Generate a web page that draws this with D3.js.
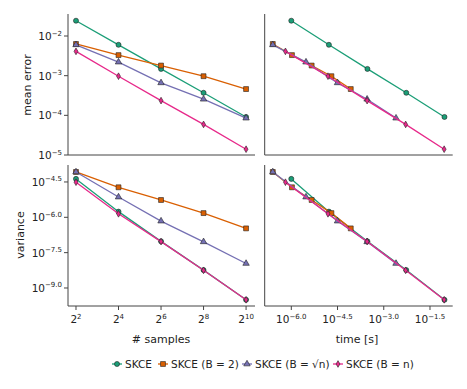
<!DOCTYPE html>
<html><head><meta charset="utf-8">
<script src="https://cdn.jsdelivr.net/npm/d3@7"></script>
<style>body{margin:0;background:#fff}text{font-family:"DejaVu Sans",sans-serif;fill:#222}</style>
</head><body><svg id="c" width="467" height="389"></svg>
<script>
const seriesNames = ["SKCE", "SKCE (B = 2)", "SKCE (B = \u221An)", "SKCE (B = n)"];
const colors = ["#1b9e77", "#d95f02", "#7570b3", "#e7298a"];
const samples = [4, 16, 64, 256, 1024];
const meanError = [
  [0.0243, 0.0060, 0.00148, 3.7e-4, 9.1e-5],
  [6.3e-3, 3.3e-3, 1.8e-3, 9.7e-4, 4.6e-4],
  [6.0e-3, 2.2e-3, 6.6e-4, 2.55e-4, 8.5e-5],
  [4.1e-3, 9.7e-4, 2.35e-4, 5.9e-5, 1.4e-5]
];
const variance = [
  [4.27e-5, 1.74e-6, 9.55e-8, 5.75e-9, 3.16e-10],
  [8.41e-5, 1.88e-5, 5.43e-6, 1.51e-6, 3.39e-7],
  [8.41e-5, 7.24e-6, 6.92e-7, 9.12e-8, 1.10e-8],
  [3.09e-5, 1.41e-6, 9.33e-8, 5.62e-9, 3.16e-10]
];
const times = [
  [1.0e-6, 1.66e-5, 2.95e-4, 5.37e-3, 9.33e-2],
  [2.51e-7, 1.05e-6, 4.57e-6, 2.0e-5, 8.5e-5],
  [2.51e-7, 3.0e-6, 3.16e-5, 2.88e-4, 2.5e-3],
  [6.46e-7, 1.55e-5, 2.88e-4, 5.13e-3, 9.12e-2]
];
const sampleTickExps = [2, 4, 6, 8, 10];
const timeTickExps = ["\u22126.0", "\u22124.5", "\u22123.0", "\u22121.5"];
const timeTickVals = [-6, -4.5, -3, -1.5];
const errTickExps = ["\u22122", "\u22123", "\u22124", "\u22125"];
const errTickVals = [-2, -3, -4, -5];
const varTickExps = ["\u22124.5", "\u22126.0", "\u22127.5", "\u22129.0"];
const varTickVals = [-4.5, -6, -7.5, -9];

const svg = d3.select("#c");
const L = [68, 255], R = [264.7, 452.7], T = [14, 155], B = [165, 306];

const xS = d3.scaleLog().base(2).domain([Math.pow(2, 1.624), Math.pow(2, 10.42)]).range(L);
const xT = d3.scaleLog().domain([Math.pow(10, -6.863), Math.pow(10, -0.763)]).range(R);
const yE = d3.scaleLog().domain([1e-5, Math.pow(10, -1.445)]).range([T[1], T[0]]);
const yV = d3.scaleLog().domain([Math.pow(10, -9.764), Math.pow(10, -3.78)]).range([B[1], B[0]]);

const axisColor = "#444";
function frame(xr, yr) {
  svg.append("line").attr("x1", xr[0]).attr("x2", xr[0]).attr("y1", yr[0]).attr("y2", yr[1]).attr("stroke", axisColor).attr("stroke-width", 1);
  svg.append("line").attr("x1", xr[0]).attr("x2", xr[1]).attr("y1", yr[1]).attr("y2", yr[1]).attr("stroke", axisColor).attr("stroke-width", 1);
}
frame(L, T); frame(R, T); frame(L, B); frame(R, B);

function supLabel(x, y, anchor, exp) {
  const t = svg.append("text").attr("x", x).attr("y", y).attr("text-anchor", anchor).attr("font-size", 10.5);
  t.append("tspan").text("10");
  t.append("tspan").attr("dy", -4.5).attr("font-size", 7).text(exp);
  return t;
}
errTickVals.forEach((v, i) => {
  const y = yE(Math.pow(10, v));
  svg.append("line").attr("x1", L[0] - 4).attr("x2", L[0]).attr("y1", y).attr("y2", y).attr("stroke", axisColor);
  supLabel(L[0] - 6, y + 4, "end", errTickExps[i]);
});
varTickVals.forEach((v, i) => {
  const y = yV(Math.pow(10, v));
  svg.append("line").attr("x1", L[0] - 4).attr("x2", L[0]).attr("y1", y).attr("y2", y).attr("stroke", axisColor);
  supLabel(L[0] - 6, y + 4, "end", varTickExps[i]);
});
sampleTickExps.forEach(e => {
  const x = xS(Math.pow(2, e));
  svg.append("line").attr("x1", x).attr("x2", x).attr("y1", B[1]).attr("y2", B[1] + 4).attr("stroke", axisColor);
  const t = svg.append("text").attr("x", x).attr("y", B[1] + 17).attr("text-anchor", "middle").attr("font-size", 10.5);
  t.append("tspan").text("2");
  t.append("tspan").attr("dy", -4.5).attr("font-size", 7).text(e);
});
timeTickVals.forEach((v, i) => {
  const x = xT(Math.pow(10, v));
  svg.append("line").attr("x1", x).attr("x2", x).attr("y1", B[1]).attr("y2", B[1] + 4).attr("stroke", axisColor);
  supLabel(x, B[1] + 17, "middle", timeTickExps[i]);
});
svg.append("text").attr("transform", "translate(31,85) rotate(-90)").attr("text-anchor", "middle").attr("font-size", 11).text("mean error");
svg.append("text").attr("transform", "translate(24,235) rotate(-90)").attr("text-anchor", "middle").attr("font-size", 11).text("variance");
svg.append("text").attr("x", 161).attr("y", 343).attr("text-anchor", "middle").attr("font-size", 11).text("# samples");
svg.append("text").attr("x", 357).attr("y", 343).attr("text-anchor", "middle").attr("font-size", 11).text("time [s]");

const symbols = [d3.symbolCircle, d3.symbolSquare, d3.symbolTriangle, d3.symbolDiamond];
const symSizes = [20, 24, 18, 13];
function marker(g, i, x, y) {
  g.append("path").attr("d", d3.symbol().type(symbols[i]).size(symSizes[i])())
    .attr("transform", `translate(${x},${y})`).attr("fill", colors[i]).attr("stroke", "#222").attr("stroke-width", 0.6);
}
function drawPanel(xs, ys, xData, yData) {
  const g = svg.append("g");
  for (let i = 0; i < 4; i++) {
    const pts = xData(i).map((xv, j) => [xs(xv), ys(yData[i][j])]);
    g.append("path").attr("d", d3.line()(pts)).attr("fill", "none").attr("stroke", colors[i]).attr("stroke-width", 1.3);
    pts.forEach(p => marker(g, i, p[0], p[1]));
  }
}
drawPanel(xS, yE, () => samples, meanError);
drawPanel(xT, yE, i => times[i], meanError);
drawPanel(xS, yV, () => samples, variance);
drawPanel(xT, yV, i => times[i], variance);

const legX = [117, 163, 247, 338];
legX.forEach((x, i) => {
  svg.append("line").attr("x1", x - 5).attr("x2", x + 5).attr("y1", 364).attr("y2", 364).attr("stroke", colors[i]).attr("stroke-width", 1.3);
  marker(svg, i, x, 364);
  svg.append("text").attr("x", x + 8).attr("y", 368).attr("font-size", 10.5).text(seriesNames[i]);
});
</script></body></html>
